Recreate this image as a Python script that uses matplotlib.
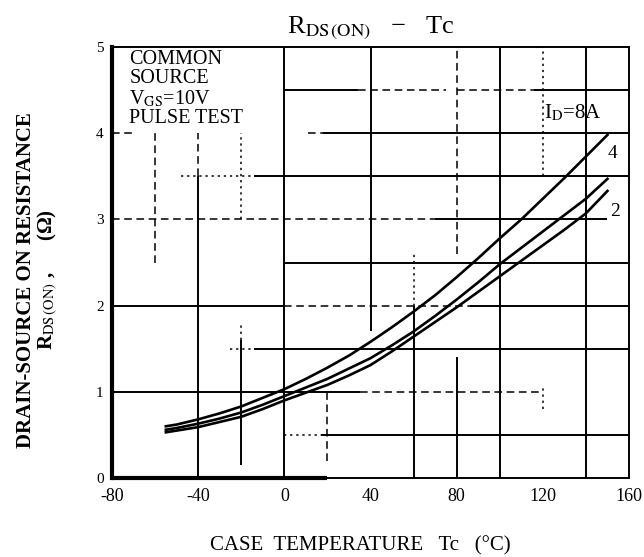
import matplotlib
matplotlib.use("Agg")
import matplotlib.pyplot as plt

# ---- data ----
tc = [-55, -50, -40, -30, -20, -10, 0, 10, 20, 30, 40, 50, 60, 70, 80, 90,
      100, 110, 120, 130, 140, 150]
rds_8a = [0.60, 0.62, 0.68, 0.75, 0.83, 0.93, 1.03, 1.15, 1.28, 1.42, 1.58,
          1.75, 1.93, 2.12, 2.33, 2.55, 2.78, 3.00, 3.24, 3.48, 3.73, 3.98]
rds_4a = [0.56, 0.58, 0.63, 0.69, 0.76, 0.85, 0.95, 1.05, 1.15, 1.27, 1.39,
          1.54, 1.70, 1.88, 2.07, 2.27, 2.48, 2.67, 2.86, 3.05, 3.24, 3.47]
rds_2a = [0.53, 0.55, 0.59, 0.65, 0.71, 0.80, 0.90, 0.99, 1.08, 1.19, 1.31,
          1.47, 1.64, 1.81, 1.98, 2.16, 2.34, 2.52, 2.70, 2.88, 3.07, 3.33]
x_ticks = [-80, -40, 0, 40, 80, 120, 160]
x_tick_labels = ["-80", "-40", "0", "40", "80", "120", "160"]
y_ticks = [0, 1, 2, 3, 4, 5]
series_labels = ["I$_{\\rm D}$=8A", "4", "2"]

SERIF = ["Liberation Serif", "DejaVu Serif"]
plt.rcParams["font.family"] = SERIF
plt.rcParams["mathtext.fontset"] = "stix"

fig = plt.figure(figsize=(6.44, 5.57), dpi=100)
ax = fig.add_axes([112 / 644, 79 / 557, (629 - 112) / 644, (478 - 47) / 557])
ax.set_xlim(-80, 160)
ax.set_ylim(0, 5)

# ---- graph-paper style grid (as in the scanned original) ----
S, D, P = "-", (0, (5, 3)), (0, (1.5, 2.5))
h_segments = [  # (y, x0, x1, style)
    (4.5, 0, 34, S), (4.5, 34, 75, D), (4.5, 80, 116, D), (4.5, 116, 160, S),
    (4.0, -80, -70, D), (4.0, 11, 18, D), (4.0, 18, 160, S),
    (3.5, -48, -14, P), (3.5, -14, 160, S),
    (3.0, -80, 70, D), (3.0, 70, 150, S),
    (2.5, 0, 160, S),
    (2.0, -80, 0, S), (2.0, 0, 86, D), (2.0, 86, 160, S),
    (1.5, -25, -14, P), (1.5, -14, 160, S),
    (1.0, -80, 35, S), (1.0, 35, 118, D),
    (0.5, 0, 17, P), (0.5, 17, 160, S),
]
v_segments = [  # (x, y0, y1, style)
    (-60, 2.5, 4.0, D),
    (-40, 3.5, 4.0, D), (-40, 0, 3.5, S),
    (-20, 3.0, 4.0, P), (-20, 0.15, 1.6, S), (-20, 1.6, 1.8, P),
    (0, 0, 5, S),
    (20, 0.2, 1.0, D),
    (40, 1.7, 5, S),
    (60, 0, 2.0, S), (60, 2.0, 2.6, P),
    (80, 0, 1.4, S), (80, 2.6, 5, D),
    (100, 0, 5, S),
    (120, 3.5, 5, P), (120, 0.8, 1.05, P),
    (140, 0, 5, S),
]
for y, x0, x1, ls in h_segments:
    ax.plot([x0, x1], [y, y], color="black", lw=1.4 if ls == S else 1.1,
            linestyle=ls, zorder=1, solid_capstyle="butt")
for x, y0, y1, ls in v_segments:
    ax.plot([x, x], [y0, y1], color="black", lw=1.4 if ls == S else 1.1,
            linestyle=ls, zorder=1, solid_capstyle="butt")

# ---- curves ----
for vals in (rds_8a, rds_4a, rds_2a):
    ax.plot(tc, vals, color="black", lw=1.9, zorder=3)

# curve labels
ax.text(134, 4.24, series_labels[0], fontsize=15, ha="center", va="center")
ax.text(152.5, 3.76, series_labels[1], fontsize=14, ha="center", va="center")
ax.text(153.5, 3.09, series_labels[2], fontsize=14, ha="center", va="center")

# condition box text
ax.text(-72, 4.96, "COMMON\nSOURCE\nV$_{\\rm GS}$=10V\nPULSE TEST",
        fontsize=14.5, ha="left", va="top", linespacing=1.0)

# ---- axes styling ----
for side in ("top", "right", "bottom"):
    ax.spines[side].set_linewidth(1.4)
ax.spines["left"].set_linewidth(3)
ax.plot([-80, 20], [0, 0], color="black", lw=3, zorder=4, clip_on=False,
        solid_capstyle="butt")

ax.set_xticks(x_ticks)
ax.set_xticklabels(x_tick_labels)
ax.set_yticks(y_ticks)
ax.tick_params(axis="x", length=0, labelsize=13, pad=7)
ax.tick_params(axis="y", length=0, labelsize=11, pad=6)

ax.set_title("R$_{\\rm DS\\,(ON)}$   \u2212   Tc", fontsize=19, pad=10)
ax.set_xlabel("CASE  TEMPERATURE   Tc   (\u00b0C)", fontsize=15)
ax.xaxis.set_label_coords(0.48, -0.135)
ax.set_ylabel("DRAIN-SOURCE ON RESISTANCE\nR$_{\\rm DS\\,(ON)}$ ,      (\u03a9)",
              fontsize=15, fontweight="bold", linespacing=0.95)
ax.yaxis.set_label_coords(-0.101, 0.46)

fig.savefig("out.png", dpi=100)
